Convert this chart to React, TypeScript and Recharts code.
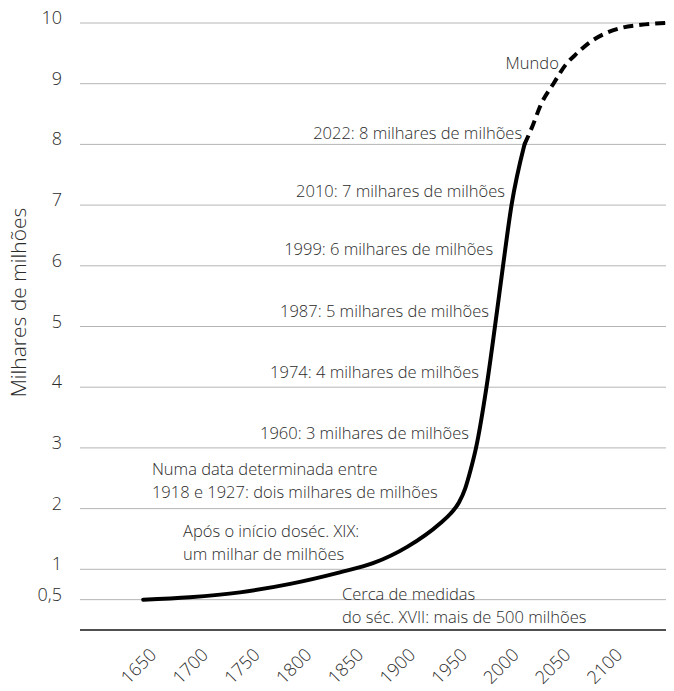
import { LineChart, Line, XAxis, YAxis, CartesianGrid, ReferenceDot } from 'recharts'

/* ─── Data ─────────────────────────────────────────────────────── */

const historyYears = [1638, 1683, 1731.5, 1780, 1828, 1860, 1893, 1925, 1935, 1943, 1949, 1954, 1959.5, 1969.6, 1977.8, 1985.6, 1993.8, 2006.3]
const historyValues = [0.5, 0.54, 0.62, 0.76, 0.95, 1.1, 1.37, 1.76, 1.92, 2.1, 2.33, 2.62, 3.0, 4, 5, 6, 7, 8]

const projectionYears = [2006.3, 2014, 2022, 2035, 2046, 2057, 2071, 2086, 2100, 2119, 2143]
const projectionValues = [8, 8.3, 8.65, 9.02, 9.31, 9.5, 9.7, 9.84, 9.92, 9.97, 10]

const xTicks = [1650, 1700, 1750, 1800, 1850, 1900, 1950, 2000, 2050, 2100]
const yTicks = [0.5, 1, 2, 3, 4, 5, 6, 7, 8, 9, 10]

const notes = [
  { year: 2039.5, value: 9.36, anchor: 'end', lines: ['Mundo'] },
  { year: 2004, value: 8.21, anchor: 'end', lines: ['2022: 8 milhares de milhões'] },
  { year: 1987.5, value: 7.25, anchor: 'end', lines: ['2010: 7 milhares de milhões'] },
  { year: 1976, value: 6.3, anchor: 'end', lines: ['1999: 6 milhares de milhões'] },
  { year: 1972, value: 5.27, anchor: 'end', lines: ['1987: 5 milhares de milhões'] },
  { year: 1962.4, value: 4.27, anchor: 'end', lines: ['1974: 4 milhares de milhões'] },
  { year: 1952.7, value: 3.26, anchor: 'end', lines: ['1960: 3 milhares de milhões'] },
  { year: 1646.5, value: 2.67, anchor: 'start', lines: ['Numa data determinada entre', '1918 e 1927: dois milhares de milhões'] },
  { year: 1676.5, value: 1.65, anchor: 'start', lines: ['Após o início doséc. XIX:', 'um milhar de milhões'] },
  { year: 1830, value: 0.61, anchor: 'start', lines: ['Cerca de medidas', 'do séc. XVII: mais de 500 milhões'] },
]

const historyData = historyYears.map((year, i) => ({ year, value: historyValues[i] }))
const projectionData = projectionYears.map((year, i) => ({ year, value: projectionValues[i] }))

/* ─── Styling ──────────────────────────────────────────────────── */

const FONT = '"Open Sans", "Noto Sans", sans-serif'
const TEXT_COLOR = '#2b2b2b'
const GRID_COLOR = '#b5b5b5'

function YTick({ y, payload }: any) {
  return (
    <text x={62} y={y - 6} textAnchor="end" dominantBaseline="central"
      fontFamily={FONT} fontSize={18} fontWeight={300} fill={TEXT_COLOR}>
      {String(payload.value).replace('.', ',')}
    </text>
  )
}

function XTick({ x, payload }: any) {
  return (
    <g transform={`translate(${x + 2}, 656) rotate(-45)`}>
      <text x={0} y={0} textAnchor="end"
        fontFamily={FONT} fontSize={18} fontWeight={300} fill={TEXT_COLOR}>
        {payload.value}
      </text>
    </g>
  )
}

function YTitle({ viewBox }: any) {
  const x = viewBox.x + 18
  const y = viewBox.y + viewBox.height / 2 - 24
  return (
    <text x={x} y={y} transform={`rotate(-90 ${x} ${y})`} textAnchor="middle" dominantBaseline="central"
      fontFamily={FONT} fontSize={21} fontWeight={300} fill={TEXT_COLOR}>
      Milhares de milhões
    </text>
  )
}

function noteShape(note: (typeof notes)[number]) {
  return (props: any) => (
    <text x={props.cx} y={props.cy} textAnchor={note.anchor} dominantBaseline="central"
      fontFamily={FONT} fontSize={16.5} fontWeight={300} fill={TEXT_COLOR}>
      {note.lines.map((line, i) => (
        <tspan key={i} x={props.cx} dy={i === 0 ? 0 : 23}>{line}</tspan>
      ))}
    </text>
  )
}

export default function App() {
  return (
    <div style={{ position: 'absolute', left: 0, top: 0, background: '#fff' }}>
      <LineChart width={674} height={691} margin={{ top: 23, right: 8, bottom: 0, left: 0 }}>
        <CartesianGrid vertical={false} stroke={GRID_COLOR} strokeWidth={1} />
        <XAxis
          dataKey="year"
          type="number"
          domain={[1577, 2143]}
          ticks={xTicks}
          tick={<XTick />}
          tickLine={false}
          axisLine={{ stroke: '#222', strokeWidth: 1.5 }}
          height={61}
          interval={0}
        />
        <YAxis
          type="number"
          domain={[0, 10]}
          ticks={yTicks}
          tick={<YTick />}
          tickLine={false}
          axisLine={false}
          width={80}
          interval={0}
          label={{ content: <YTitle /> }}
        />
        <Line data={historyData} dataKey="value" type="monotone" stroke="#000" strokeWidth={4}
          strokeLinecap="round" dot={false} isAnimationActive={false} />
        <Line data={projectionData} dataKey="value" type="monotone" stroke="#000" strokeWidth={4}
          strokeDasharray="10 6" dot={false} isAnimationActive={false} />
        {notes.map((note, i) => (
          <ReferenceDot key={i} x={note.year} y={note.value} r={0} shape={noteShape(note)} />
        ))}
      </LineChart>
    </div>
  )
}
